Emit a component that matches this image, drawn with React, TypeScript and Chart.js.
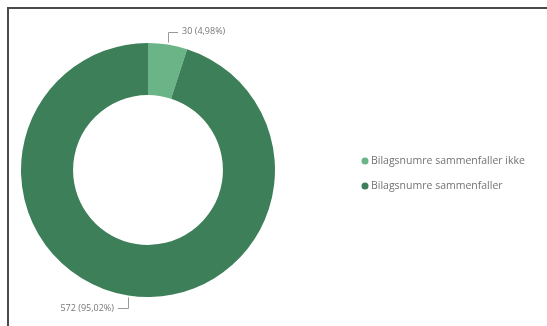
import React, { useEffect, useRef } from "react";
import { Chart, registerables } from "chart.js";

Chart.register(...registerables);

const categories = ["Bilagsnumre sammenfaller ikke", "Bilagsnumre sammenfaller"];
const values = [30, 572];
const percentLabels = ["4,98%", "95,02%"];
const colors = ["#6ab488", "#3d7f58"];

const FONT = "'Open Sans', 'Noto Sans', sans-serif";

const labelPlugin = {
  id: "labelsAndLegend",
  afterDraw(chart: any) {
    const ctx = chart.ctx;
    const meta = chart.getDatasetMeta(0);
    ctx.save();
    ctx.font = `9px ${FONT}`;
    ctx.textBaseline = "middle";
    meta.data.forEach((arc: any, i: number) => {
      const p = arc.getProps(["x", "y", "startAngle", "endAngle", "outerRadius"], true);
      const mid = (p.startAngle + p.endAngle) / 2;
      const ax = p.x + Math.cos(mid) * (p.outerRadius + 2);
      const ay = p.y + Math.sin(mid) * (p.outerRadius + 2);
      const up = Math.sin(mid) < 0;
      const right = Math.cos(mid) >= 0;
      const ey = up ? ay - 11 : ay + 11;
      const ex = right ? ax + 10 : ax - 10;
      ctx.strokeStyle = "#9a9a9a";
      ctx.lineWidth = 1;
      ctx.beginPath();
      ctx.moveTo(Math.round(ax) + 0.5, ay);
      ctx.lineTo(Math.round(ax) + 0.5, Math.round(ey) + 0.5);
      ctx.lineTo(ex, Math.round(ey) + 0.5);
      ctx.stroke();
      ctx.fillStyle = "#777";
      ctx.textAlign = right ? "left" : "right";
      const txt = `${values[i]} (${percentLabels[i]})`;
      ctx.fillText(txt, right ? ex + 4 : ex - 4, ey);
    });
    // legend
    ctx.font = `10.5px ${FONT}`;
    ctx.textAlign = "left";
    const lx = 356;
    const ly = 152;
    categories.forEach((c, i) => {
      const y = ly + i * 25;
      ctx.fillStyle = colors[i];
      ctx.beginPath();
      ctx.arc(lx, y, 3.5, 0, Math.PI * 2);
      ctx.fill();
      ctx.fillStyle = "#737373";
      ctx.fillText(c, lx + 6, y);
    });
    ctx.restore();
  },
};

export default function App() {
  const ref = useRef<HTMLCanvasElement | null>(null);
  useEffect(() => {
    if (!ref.current) return;
    const W = 540;
    const H = 319;
    const chart = new Chart(ref.current, {
      type: "doughnut",
      data: {
        labels: categories,
        datasets: [
          {
            data: values,
            backgroundColor: colors,
            borderWidth: 0,
            hoverOffset: 0,
          },
        ],
      },
      options: {
        animation: false,
        responsive: false,
        maintainAspectRatio: false,
        cutout: "59%",
        layout: {
          padding: { left: 12, top: 34, right: W - 266, bottom: H - 288 },
        },
        plugins: {
          legend: { display: false },
          tooltip: { enabled: false },
        },
      },
      plugins: [labelPlugin],
    });
    return () => chart.destroy();
  }, []);
  return (
    <div
      style={{
        position: "fixed",
        left: 7,
        top: 7,
        width: 540,
        height: 319,
        borderLeft: "2px solid #4a4a4a",
        borderTop: "2px solid #4a4a4a",
        background: "#fff",
      }}
    >
      <canvas ref={ref} width={540} height={319} style={{ display: "block", width: 540, height: 319 }} />
    </div>
  );
}
